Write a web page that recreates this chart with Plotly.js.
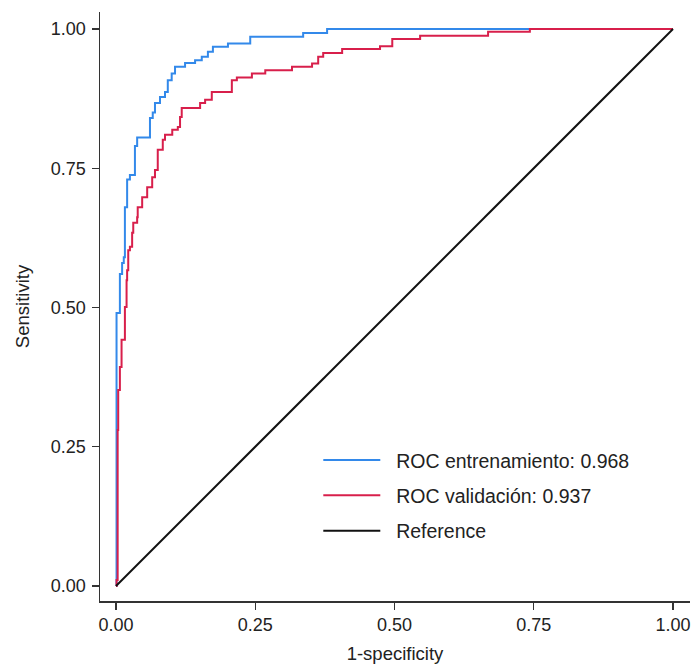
<!DOCTYPE html>
<html>
<head>
<meta charset="utf-8">
<script src="https://cdn.plot.ly/plotly-3.0.1.min.js"></script>
<style>html,body{margin:0;padding:0;background:#fff;}#chart{width:694px;height:664px;}</style>
</head>
<body>
<div id="chart"></div>
<script>
// Training ROC (fpr, tpr)
const trainFpr = [0, 0.001, 0.001, 0.007, 0.007, 0.011, 0.014, 0.016, 0.020, 0.025, 0.034, 0.034, 0.038, 0.057, 0.061, 0.066, 0.070, 0.079, 0.088, 0.093, 0.100, 0.106, 0.124, 0.142, 0.154, 0.165, 0.174, 0.201, 0.241, 0.336, 0.379, 1];
const trainTpr = [0, 0.18, 0.49, 0.50, 0.56, 0.58, 0.59, 0.68, 0.73, 0.738, 0.742, 0.79, 0.805, 0.805, 0.84, 0.85, 0.867, 0.878, 0.887, 0.908, 0.92, 0.932, 0.939, 0.944, 0.950, 0.959, 0.968, 0.974, 0.986, 0.993, 1.0, 1];
// Validation ROC (fpr, tpr)
const validFpr = [0, 0.001, 0.003, 0.004, 0.007, 0.010, 0.016, 0.019, 0.020, 0.022, 0.025, 0.029, 0.031, 0.038, 0.039, 0.047, 0.056, 0.065, 0.070, 0.075, 0.084, 0.088, 0.101, 0.111, 0.115, 0.118, 0.136, 0.151, 0.160, 0.172, 0.208, 0.217, 0.244, 0.268, 0.316, 0.352, 0.363, 0.372, 0.406, 0.474, 0.496, 0.546, 0.668, 0.743, 1];
const validTpr = [0, 0.011, 0.28, 0.352, 0.393, 0.442, 0.501, 0.549, 0.567, 0.603, 0.609, 0.634, 0.652, 0.662, 0.680, 0.698, 0.716, 0.734, 0.747, 0.783, 0.801, 0.810, 0.819, 0.824, 0.842, 0.858, 0.858, 0.867, 0.873, 0.887, 0.908, 0.913, 0.920, 0.926, 0.932, 0.938, 0.950, 0.957, 0.964, 0.969, 0.982, 0.988, 0.995, 1.0, 1];
// Reference diagonal
const refX = [0, 1];
const refY = [0, 1];
const seriesNames = ["ROC entrenamiento: 0.968", "ROC validación: 0.937", "Reference"];
const tickVals = [0, 0.25, 0.5, 0.75, 1];
const tickText = ["0.00", "0.25", "0.50", "0.75", "1.00"];

const font = "Liberation Sans, Arial, Helvetica, sans-serif";
const pad = "\u00A0\u00A0";
const traces = [
  {x: trainFpr, y: trainTpr, mode: "lines", name: pad + seriesNames[0], legendgroup: "a",
   line: {color: "#3389ea", width: 2, shape: "hv"}},
  {x: validFpr, y: validTpr, mode: "lines", name: pad + seriesNames[1], legendgroup: "b",
   line: {color: "#d81f4b", width: 2, shape: "hv"}},
  {x: refX, y: refY, mode: "lines", name: pad + seriesNames[2], legendgroup: "c",
   line: {color: "#111111", width: 2}}
];
const axisCommon = {
  tickvals: tickVals, ticktext: tickText, ticks: "outside", ticklen: 7, tickwidth: 1.3,
  tickcolor: "#333", showline: true, linecolor: "#333", linewidth: 1.5, showgrid: false,
  zeroline: false, tickfont: {family: font, size: 18, color: "#222"}
};
const layout = {
  width: 694, height: 664,
  margin: {l: 100, r: 4, t: 12, b: 63},
  paper_bgcolor: "#fff", plot_bgcolor: "#fff",
  font: {family: font, color: "#222"},
  xaxis: Object.assign({}, axisCommon, {range: [-0.0287, 1.0305],
    title: {text: "1-specificity", font: {family: font, size: 18.5, color: "#222"}, standoff: 14}}),
  yaxis: Object.assign({}, axisCommon, {range: [-0.0269, 1.0305], ticklabelstandoff: 2,
    title: {text: "Sensitivity", font: {family: font, size: 18.5, color: "#222"}, standoff: 16}}),
  showlegend: true,
  legend: {x: 0.37, y: 0.272, xanchor: "left", yanchor: "top", bgcolor: "rgba(0,0,0,0)",
    font: {family: font, size: 19.5, color: "#222"}, itemwidth: 57, tracegroupgap: 7,
    traceorder: "grouped"}
};
Plotly.newPlot("chart", traces, layout, {displayModeBar: false, staticPlot: true});
</script>
</body>
</html>
